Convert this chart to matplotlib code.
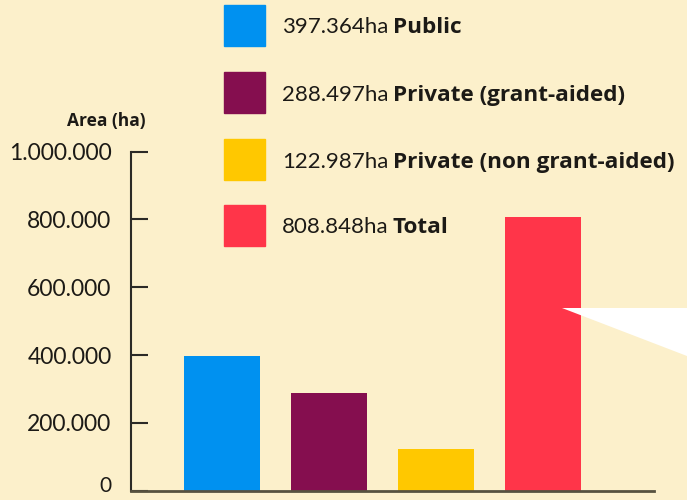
import matplotlib.pyplot as plt
import matplotlib.transforms as mtransforms
from matplotlib.patches import Rectangle, Polygon
from matplotlib.ticker import FuncFormatter

# forest area by ownership type (hectares)
categories = ["Public", "Private (grant-aided)", "Private (non grant-aided)", "Total"]
area_ha = [397364, 288497, 122987, 808848]
colors = ["#0091f0", "#850e4f", "#ffc800", "#ff3549"]
y_ticks = [0, 200000, 400000, 600000, 800000, 1000000]

bg = "#fcf0cb"
ink = "#1c1a16"
plt.rcParams['font.family'] = ['Lato', 'DejaVu Sans']


def dotted(v, pos=None):
        return f"{v:,.0f}".replace(",", ".")


fig = plt.figure(figsize=(6.87, 5.0), dpi=100, facecolor=bg)
ax = fig.add_axes([131 / 687, 1 - 490.7 / 500, (654 - 131) / 687, (490.7 - 151.7) / 500])
ax.set_facecolor(bg)

x = range(len(area_ha))
ax.bar(x, area_ha, width=0.71, color=colors, zorder=2)
ax.set_xlim(-0.85, 4.04)
ax.set_ylim(0, 1000000)

for s in ["top", "right"]:
        ax.spines[s].set_visible(False)
ax.spines["left"].set_color("#2b2a26")
ax.spines["left"].set_linewidth(1.5)
ax.spines["bottom"].set_color("#57523f")
ax.spines["bottom"].set_linewidth(2)
ax.spines["bottom"].set_zorder(3)

ax.set_xticks([])
ax.set_yticks(y_ticks)
ax.yaxis.set_major_formatter(FuncFormatter(dotted))
ax.tick_params(axis="y", direction="in", length=12, width=1.5, color="#2b2a26",
               labelsize=16.5, labelcolor=ink, pad=14)

# the zero label sits a little higher, clear of the bottom edge
zero_lbl = ax.yaxis.get_major_ticks()[0].label1
zero_lbl.set_fontsize(15)
zero_lbl.set_transform(zero_lbl.get_transform() +
                       mtransforms.ScaledTranslation(0, 5 / 72, fig.dpi_scale_trans))

fig.text(106 / 687, 1 - 121 / 500, "Area (ha)", ha="center", va="center",
         fontsize=12.5, fontweight="bold", color=ink, family="Open Sans")

# legend: coloured square, value in regular weight, name in bold on the same baseline
box_y = [25.5, 92.5, 159.5, 225.5]
base_y = [33, 101, 168, 233]
for name, val, c, by, ty in zip(categories, area_ha, colors, box_y, base_y):
        fig.add_artist(Rectangle((224 / 687, 1 - (by + 20.5) / 500), 41 / 687, 41 / 500,
                                 transform=fig.transFigure, color=c))
        t = fig.text(282 / 687, 1 - ty / 500, dotted(val) + "ha", ha="left", va="baseline",
                     fontsize=16, color=ink)
        ax.annotate(name, xy=(1, 1 - ty / 500), xycoords=(t, "figure fraction"),
                    xytext=(3, 0), textcoords="offset points",
                    ha="left", va="baseline", fontsize=16.2, fontweight="bold", color=ink,
                    family="Open Sans", annotation_clip=False)

# white pointer wedge coming in from the right edge
fig.add_artist(Polygon([(562 / 687, 1 - 308 / 500), (1, 1 - 308 / 500), (1, 1 - 356 / 500)],
                       closed=True, transform=fig.transFigure, facecolor="white",
                       edgecolor="none", zorder=5))

fig.savefig("out.png", dpi=100, facecolor=bg)
